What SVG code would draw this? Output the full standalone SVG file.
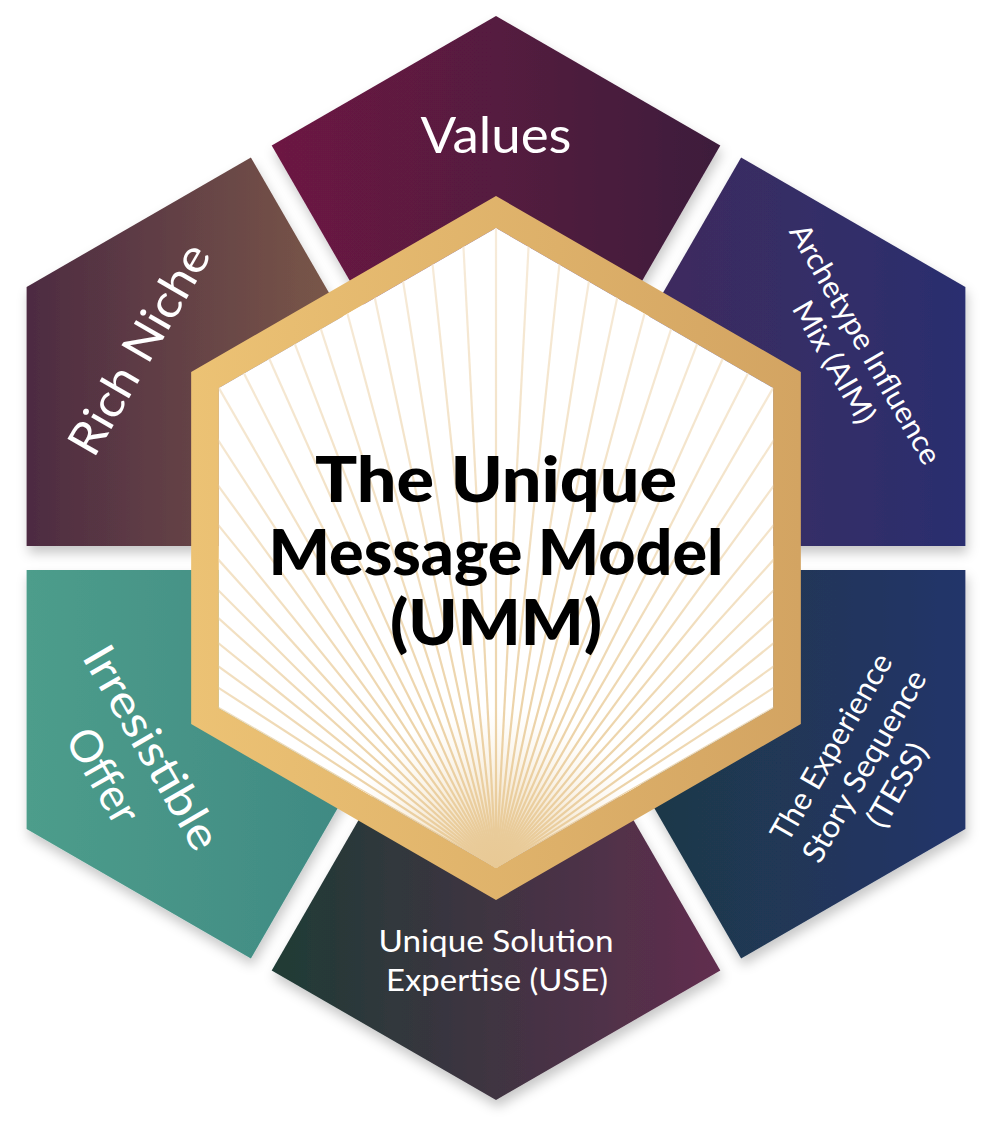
<svg xmlns="http://www.w3.org/2000/svg" xmlns:xlink="http://www.w3.org/1999/xlink" width="1002" height="1146" viewBox="0 0 1002 1146">
<style>
.lbl{fill:#fff;font-family:"Lato","Open Sans","Liberation Sans",sans-serif;font-weight:400;text-anchor:middle}
.ctr{fill:#000;font-family:"Lato","Liberation Sans",sans-serif;font-weight:900;font-size:62px;text-anchor:middle}
.seg{filter:url(#shadow)}
.ray{stroke:url(#rayGrad);stroke-width:2.2;fill:none}
</style>
<defs>
<filter id="shadow" x="-20%" y="-20%" width="140%" height="140%">
<feDropShadow dx="2" dy="7" stdDeviation="6" flood-color="#000" flood-opacity="0.22"/>
</filter>
<linearGradient id="gValues" x1="0" y1="0" x2="1" y2="0"><stop offset="0" stop-color="#6d1943"/><stop offset="1" stop-color="#3d1b3b"/></linearGradient>
<linearGradient id="gAim" x1="0" y1="0" x2="1" y2="0"><stop offset="0" stop-color="#472a57"/><stop offset="1" stop-color="#2a2f6f"/></linearGradient>
<linearGradient id="gTess" x1="0" y1="0" x2="1" y2="0"><stop offset="0" stop-color="#1d3b3a"/><stop offset="1" stop-color="#22346a"/></linearGradient>
<linearGradient id="gUse" x1="0" y1="0" x2="1" y2="0"><stop offset="0" stop-color="#1f3b35"/><stop offset="1" stop-color="#612d4f"/></linearGradient>
<linearGradient id="gOffer" x1="0" y1="0" x2="1" y2="0"><stop offset="0" stop-color="#4d9d8b"/><stop offset="1" stop-color="#3a8280"/></linearGradient>
<linearGradient id="gNiche" x1="0" y1="0" x2="1" y2="0"><stop offset="0" stop-color="#4d2b42"/><stop offset="1" stop-color="#8e6b4b"/></linearGradient>
<linearGradient id="gGold" x1="0" y1="0" x2="1" y2="0"><stop offset="0" stop-color="#ecc274"/><stop offset="1" stop-color="#d3a462"/></linearGradient>
<linearGradient id="rayGrad" gradientUnits="userSpaceOnUse" x1="496" y1="868" x2="496" y2="168"><stop offset="0" stop-color="#e8c995"/><stop offset="0.5" stop-color="#f2e0c2"/><stop offset="1" stop-color="#f8eee0"/></linearGradient>
<radialGradient id="glow" gradientUnits="userSpaceOnUse" cx="496" cy="868" r="160"><stop offset="0" stop-color="#e9cb9c" stop-opacity="0.95"/><stop offset="0.45" stop-color="#efd9b3" stop-opacity="0.6"/><stop offset="1" stop-color="#f6e9d3" stop-opacity="0"/></radialGradient>
<clipPath id="innerClip"><polygon points="496,228 773.13,388 773.13,708 496,868 218.87,708 218.87,388"/></clipPath>
<line id="ray" class="ray" x1="496" y1="868" x2="496" y2="168"/>
</defs>

<g id="segments">
<g id="seg-values"><polygon class="seg" fill="url(#gValues)" points="496,534 271.7,145.5 496,16 720.3,145.5"/>
<text class="lbl" x="496" y="153" font-size="50" font-weight="500" textLength="151" lengthAdjust="spacingAndGlyphs">Values</text></g>
<g id="seg-aim"><polygon class="seg" fill="url(#gAim)" points="516.8,546 741.1,157.5 965.39,287 965.39,546"/>
<g transform="translate(850,353) rotate(60)"><text class="lbl" x="0" y="-7.5" font-size="30" textLength="272" lengthAdjust="spacingAndGlyphs">Archetype Influence</text><text class="lbl" x="0" y="28.5" font-size="30" textLength="136" lengthAdjust="spacingAndGlyphs">Mix (AIM)</text></g></g>
<g id="seg-tess"><polygon class="seg" fill="url(#gTess)" points="516.8,570 965.39,570 965.39,829 741.1,958.5"/>
<g transform="translate(864,766) rotate(-60)"><text class="lbl" x="0" y="-27" font-size="31" textLength="211" lengthAdjust="spacingAndGlyphs">The Experience</text><text class="lbl" x="0" y="11" font-size="31" textLength="216" lengthAdjust="spacingAndGlyphs">Story Sequence</text><text class="lbl" x="0" y="49" font-size="31" textLength="92" lengthAdjust="spacingAndGlyphs">(TESS)</text></g></g>
<g id="seg-use"><polygon class="seg" fill="url(#gUse)" points="496,582 720.3,970.5 496,1100 271.7,970.5"/>
<text class="lbl" x="496" y="952" font-size="31" textLength="235" lengthAdjust="spacingAndGlyphs">Unique Solution</text>
<text class="lbl" x="497" y="991" font-size="31" textLength="222" lengthAdjust="spacingAndGlyphs">Expertise (USE)</text></g>
<g id="seg-offer"><polygon class="seg" fill="url(#gOffer)" points="475.2,570 250.9,958.5 26.61,829 26.61,570"/>
<g transform="translate(127,762) rotate(60)"><text class="lbl" x="0" y="-13" font-size="45" textLength="228" lengthAdjust="spacingAndGlyphs">Irresistible</text><text class="lbl" x="0" y="43" font-size="45" textLength="103" lengthAdjust="spacingAndGlyphs">Offer</text></g></g>
<g id="seg-niche"><polygon class="seg" fill="url(#gNiche)" points="475.2,546 26.61,546 26.61,287 250.9,157.5"/>
<g transform="translate(139,349) rotate(-60)"><text class="lbl" x="0" y="16" font-size="46" textLength="236" lengthAdjust="spacingAndGlyphs">Rich Niche</text></g></g>
</g>

<g id="center">
<path fill="url(#gGold)" fill-rule="evenodd" d="M496,196 L800.84,372 L800.84,724 L496,900 L191.16,724 L191.16,372 Z M496,228 L218.87,388 L218.87,708 L496,868 L773.13,708 L773.13,388 Z"/>
<polygon fill="#fff" points="496,228 773.13,388 773.13,708 496,868 218.87,708 218.87,388"/>
<g clip-path="url(#innerClip)">
<rect x="218" y="228" width="556" height="640" fill="url(#glow)"/>
<use href="#ray" transform="rotate(-60 496 868)"/><use href="#ray" transform="rotate(-57 496 868)"/><use href="#ray" transform="rotate(-54 496 868)"/><use href="#ray" transform="rotate(-51 496 868)"/><use href="#ray" transform="rotate(-48 496 868)"/><use href="#ray" transform="rotate(-45 496 868)"/><use href="#ray" transform="rotate(-42 496 868)"/><use href="#ray" transform="rotate(-39 496 868)"/><use href="#ray" transform="rotate(-36 496 868)"/><use href="#ray" transform="rotate(-33 496 868)"/><use href="#ray" transform="rotate(-30 496 868)"/><use href="#ray" transform="rotate(-27 496 868)"/><use href="#ray" transform="rotate(-24 496 868)"/><use href="#ray" transform="rotate(-21 496 868)"/><use href="#ray" transform="rotate(-18 496 868)"/><use href="#ray" transform="rotate(-15 496 868)"/><use href="#ray" transform="rotate(-12 496 868)"/><use href="#ray" transform="rotate(-9 496 868)"/><use href="#ray" transform="rotate(-6 496 868)"/><use href="#ray" transform="rotate(-3 496 868)"/><use href="#ray"/><use href="#ray" transform="rotate(3 496 868)"/><use href="#ray" transform="rotate(6 496 868)"/><use href="#ray" transform="rotate(9 496 868)"/><use href="#ray" transform="rotate(12 496 868)"/><use href="#ray" transform="rotate(15 496 868)"/><use href="#ray" transform="rotate(18 496 868)"/><use href="#ray" transform="rotate(21 496 868)"/><use href="#ray" transform="rotate(24 496 868)"/><use href="#ray" transform="rotate(27 496 868)"/><use href="#ray" transform="rotate(30 496 868)"/><use href="#ray" transform="rotate(33 496 868)"/><use href="#ray" transform="rotate(36 496 868)"/><use href="#ray" transform="rotate(39 496 868)"/><use href="#ray" transform="rotate(42 496 868)"/><use href="#ray" transform="rotate(45 496 868)"/><use href="#ray" transform="rotate(48 496 868)"/><use href="#ray" transform="rotate(51 496 868)"/><use href="#ray" transform="rotate(54 496 868)"/><use href="#ray" transform="rotate(57 496 868)"/><use href="#ray" transform="rotate(60 496 868)"/>
</g>
<text class="ctr" x="496" y="502" textLength="362" lengthAdjust="spacingAndGlyphs">The Unique</text>
<text class="ctr" x="496" y="575" textLength="455" lengthAdjust="spacingAndGlyphs">Message Model</text>
<text class="ctr" x="496" y="645" textLength="212" lengthAdjust="spacingAndGlyphs">(UMM)</text>
</g>
</svg>
